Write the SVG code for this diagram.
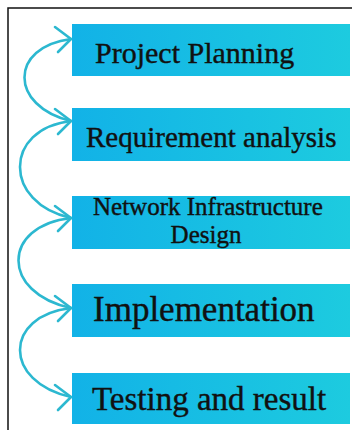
<svg xmlns="http://www.w3.org/2000/svg" width="352" height="430" viewBox="0 0 352 430">
  <defs>
    <linearGradient id="boxfill" x1="0" y1="0" x2="1" y2="0">
      <stop offset="0" stop-color="#12b2e7"/>
      <stop offset="1" stop-color="#1dcbdf"/>
    </linearGradient>
    <marker id="chev" markerUnits="userSpaceOnUse" markerWidth="24" markerHeight="32" viewBox="-20 -16 24 32" refX="0" refY="0" orient="0">
      <path d="M-16,-12 L0,0 L-13,13" fill="none" stroke="#2cb8d0" stroke-width="2.6" stroke-linecap="round" stroke-linejoin="round"/>
    </marker>
  </defs>
  <style>
    .box { fill: url(#boxfill); }
    .lbl { font-family: "Liberation Serif", "Times New Roman", serif; fill: #111; stroke: #111; stroke-width: 0.4; }
    .arc { fill: none; stroke: #2cb8d0; stroke-width: 2.6; stroke-linecap: round; }
  </style>
  <rect x="0" y="0" width="352" height="430" fill="#ffffff"/>
  <path d="M8,430 V8 H352" fill="none" stroke="#111" stroke-width="1.5"/>

  <g id="connectors">
    <path class="arc" d="M71,39 C9,47 9,106 71,121" marker-start="url(#chev)" marker-end="url(#chev)"/>
    <path class="arc" d="M71,121 C3,129 3,203 71,218" marker-end="url(#chev)"/>
    <path class="arc" d="M71,218 C1,226 1,293 71,308" marker-end="url(#chev)"/>
    <path class="arc" d="M71,308 C3,316 3,382 71,397" marker-end="url(#chev)"/>
  </g>

  <g id="node1">
    <rect class="box" x="72" y="24" width="278" height="52"/>
    <text class="lbl" x="95" y="63" font-size="30">Project Planning</text>
  </g>
  <g id="node2">
    <rect class="box" x="72" y="108" width="278" height="53"/>
    <text class="lbl" x="86" y="147" font-size="29">Requirement analysis</text>
  </g>
  <g id="node3">
    <rect class="box" x="72" y="196" width="278" height="53"/>
    <text class="lbl" x="93" y="215" font-size="25">Network Infrastructure</text>
    <text class="lbl" x="206" y="243" font-size="25" text-anchor="middle">Design</text>
  </g>
  <g id="node4">
    <rect class="box" x="72" y="284" width="278" height="53"/>
    <text class="lbl" x="93" y="321" font-size="35">Implementation</text>
  </g>
  <g id="node5">
    <rect class="box" x="72" y="373" width="278" height="51"/>
    <text class="lbl" x="92" y="410" font-size="33">Testing and result</text>
  </g>
</svg>
